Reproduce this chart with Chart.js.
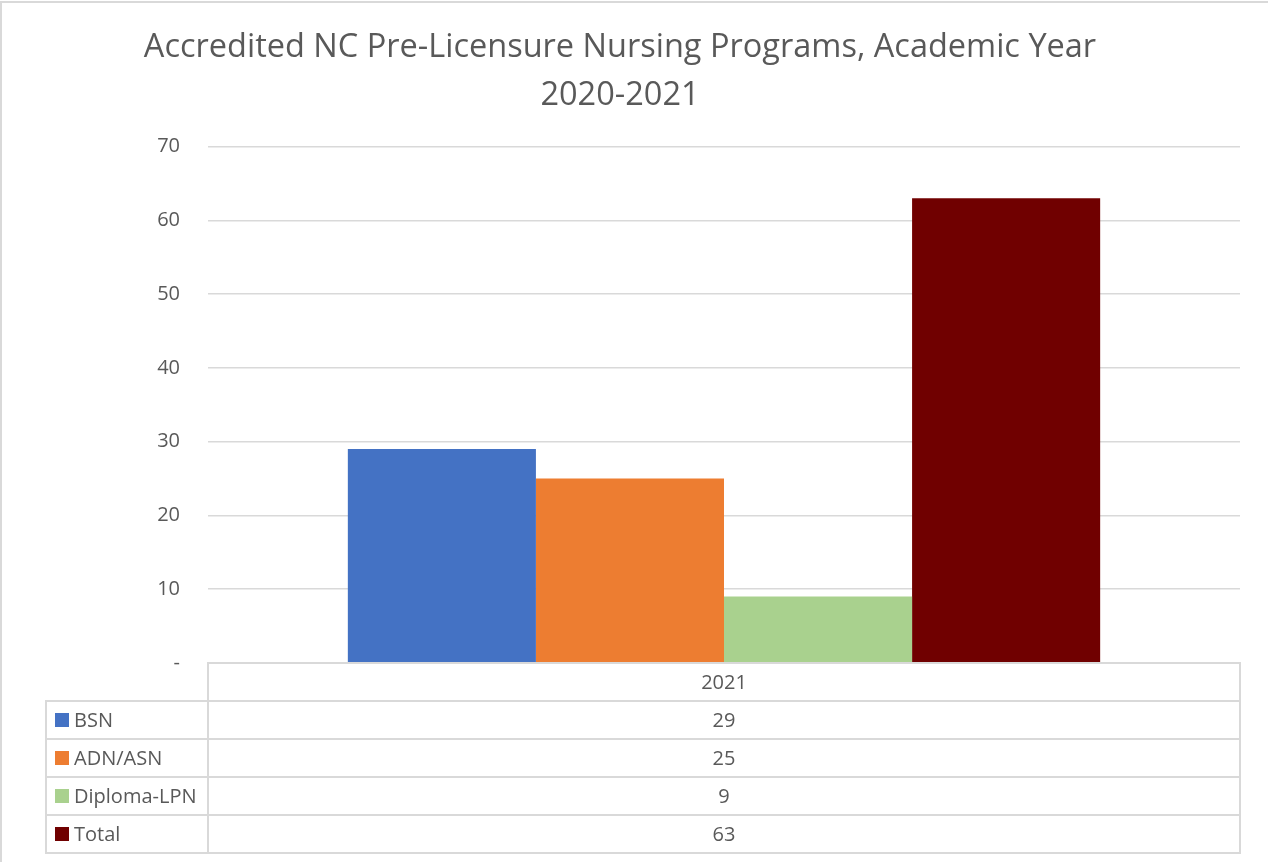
<!DOCTYPE html>
<html>
<head>
<meta charset="utf-8">
<script src="https://cdn.jsdelivr.net/npm/chart.js@4/dist/chart.umd.min.js"></script>
<style>
html,body{margin:0;padding:0;background:#fff;}
#wrap{width:1268px;height:865px;position:relative;}
</style>
</head>
<body>
<div id="wrap"><canvas id="c" width="1268" height="865"></canvas></div>
<script>
const categories = ["2021"];
const seriesNames = ["BSN", "ADN/ASN", "Diploma-LPN", "Total"];
const bsn = [29];
const adnAsn = [25];
const diplomaLpn = [9];
const total = [63];
const seriesColors = ["#4472C4", "#ED7D31", "#A9D18E", "#700000"];
const titleLines = ["Accredited NC Pre-Licensure Nursing Programs, Academic Year", "2020-2021"];
const yTickMax = 70;
const yTickStep = 10;

const seriesValues = [bsn, adnAsn, diplomaLpn, total];
const FONT = "'Open Sans', 'Liberation Sans', sans-serif";
const TEXT = "#595959";
const GRID = "#d9d9d9";

const tablePlugin = {
  id: 'dataTable',
  afterDraw(chart) {
    const ctx = chart.ctx;
    const area = chart.chartArea;
    const rowH = 38;
    const leftX = 46;
    const top = area.bottom;
    ctx.save();
    ctx.strokeStyle = GRID;
    ctx.lineWidth = 2;
    // outer chart frame
    ctx.beginPath();
    ctx.moveTo(1, 862); ctx.lineTo(1, 2); ctx.lineTo(1268, 2);
    ctx.stroke();
    // header row
    ctx.beginPath();
    ctx.rect(area.left, top, area.right - area.left, rowH);
    ctx.stroke();
    // data rows
    for (let i = 0; i < seriesNames.length; i++) {
      const y = top + rowH * (i + 1);
      ctx.beginPath();
      ctx.rect(leftX, y, area.left - leftX, rowH);
      ctx.rect(area.left, y, area.right - area.left, rowH);
      ctx.stroke();
    }
    ctx.fillStyle = TEXT;
    ctx.font = "20px " + FONT;
    ctx.textBaseline = 'middle';
    const xScale = chart.scales.x;
    categories.forEach((cat, ci) => {
      const cx = xScale.getPixelForValue(ci);
      ctx.textAlign = 'center';
      ctx.fillText(cat, cx, top + rowH / 2 + 1);
      seriesValues.forEach((vals, si) => {
        ctx.fillText(String(vals[ci]), cx, top + rowH * (si + 1) + rowH / 2 + 1);
      });
    });
    seriesNames.forEach((name, si) => {
      const y = top + rowH * (si + 1) + rowH / 2;
      ctx.fillStyle = seriesColors[si];
      ctx.fillRect(55, y - 7, 14, 14);
      ctx.fillStyle = TEXT;
      ctx.textAlign = 'left';
      ctx.fillText(name, 74, y + 1);
    });
    ctx.restore();
  }
};

new Chart(document.getElementById('c'), {
  type: 'bar',
  data: {
    labels: categories,
    datasets: seriesNames.map((n, i) => ({
      label: n,
      data: seriesValues[i],
      backgroundColor: seriesColors[i],
      borderWidth: 0,
      categoryPercentage: 0.729,
      barPercentage: 1.0
    }))
  },
  options: {
    responsive: false,
    animation: false,
    layout: { padding: { left: 0, right: 28, top: 0, bottom: 202 } },
    plugins: {
      legend: { display: false },
      tooltip: { enabled: false },
      title: {
        display: true,
        text: titleLines,
        color: TEXT,
        font: { family: FONT, size: 32.5, weight: 'normal', lineHeight: 1.5 },
        padding: { top: 23, bottom: 26 }
      }
    },
    scales: {
      x: {
        display: false
      },
      y: {
        min: 0,
        max: yTickMax,
        ticks: {
          stepSize: yTickStep,
          color: TEXT,
          font: { family: FONT, size: 20 },
          padding: 28,
          callback: v => v === 0 ? '-' : v
        },
        grid: { color: GRID, lineWidth: 1.5, drawTicks: false },
        border: { display: false },
        afterFit(scale) { scale.width = 208; }
      }
    }
  },
  plugins: [tablePlugin]
});
</script>
</body>
</html>
